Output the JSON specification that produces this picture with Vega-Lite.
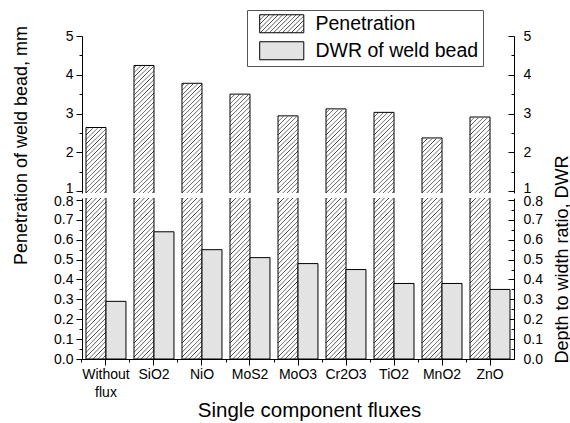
{
  "$schema": "https://vega.github.io/schema/vega-lite/v6.json",
  "autosize": "pad",
  "bounds": "flush",
  "padding": {"left": 11, "top": 9, "right": 0, "bottom": 0},
  "background": "white",
  "spacing": 5,
  "data": {"values": [
    {"flux": "Without flux", "pen": 2.64, "dwr": 0.29},
    {"flux": "SiO2", "pen": 4.24, "dwr": 0.64},
    {"flux": "NiO", "pen": 3.78, "dwr": 0.55},
    {"flux": "MoS2", "pen": 3.5, "dwr": 0.51},
    {"flux": "MoO3", "pen": 2.94, "dwr": 0.48},
    {"flux": "Cr2O3", "pen": 3.12, "dwr": 0.45},
    {"flux": "TiO2", "pen": 3.03, "dwr": 0.38},
    {"flux": "MnO2", "pen": 2.37, "dwr": 0.38},
    {"flux": "ZnO", "pen": 2.91, "dwr": 0.35}
  ]},
  "config": {
    "font": "Liberation Sans",
    "view": {"stroke": null},
    "axis": {"labelFont": "Liberation Sans", "titleFont": "Liberation Sans", "labelFontSize": 14, "labelColor": "#000", "domainColor": "#000", "tickColor": "#000", "titleFontSize": 18, "titleFontWeight": "normal", "titleColor": "#000", "grid": false},
    "legend": {"labelFont": "Liberation Sans", "labelFontSize": 19.5, "labelColor": "#000", "labelLimit": 400, "symbolStrokeColor": "black", "symbolStrokeWidth": 1}
  },
  "vconcat": [
    {
      "width": 432,
      "height": 157,
      "layer": [
        {
          "mark": {"type": "bar", "strokeWidth": 0, "clip": true, "fill": {"gradient": "linear", "x1": 0, "y1": 0, "x2": 0.137, "y2": 1.107, "stops": [
            {"offset": 0, "color": "#fff"}, {"offset": 0.004, "color": "#404040"}, {"offset": 0.009, "color": "#fff"},
            {"offset": 0.025, "color": "#fff"}, {"offset": 0.029, "color": "#404040"}, {"offset": 0.034, "color": "#fff"},
            {"offset": 0.05, "color": "#fff"}, {"offset": 0.054, "color": "#404040"}, {"offset": 0.059, "color": "#fff"},
            {"offset": 0.075, "color": "#fff"}, {"offset": 0.079, "color": "#404040"}, {"offset": 0.084, "color": "#fff"},
            {"offset": 0.1, "color": "#fff"}, {"offset": 0.104, "color": "#404040"}, {"offset": 0.109, "color": "#fff"},
            {"offset": 0.125, "color": "#fff"}, {"offset": 0.129, "color": "#404040"}, {"offset": 0.134, "color": "#fff"},
            {"offset": 0.15, "color": "#fff"}, {"offset": 0.154, "color": "#404040"}, {"offset": 0.159, "color": "#fff"},
            {"offset": 0.175, "color": "#fff"}, {"offset": 0.179, "color": "#404040"}, {"offset": 0.184, "color": "#fff"},
            {"offset": 0.2, "color": "#fff"}, {"offset": 0.204, "color": "#404040"}, {"offset": 0.209, "color": "#fff"},
            {"offset": 0.225, "color": "#fff"}, {"offset": 0.229, "color": "#404040"}, {"offset": 0.234, "color": "#fff"},
            {"offset": 0.25, "color": "#fff"}, {"offset": 0.254, "color": "#404040"}, {"offset": 0.259, "color": "#fff"},
            {"offset": 0.275, "color": "#fff"}, {"offset": 0.279, "color": "#404040"}, {"offset": 0.284, "color": "#fff"},
            {"offset": 0.3, "color": "#fff"}, {"offset": 0.304, "color": "#404040"}, {"offset": 0.309, "color": "#fff"},
            {"offset": 0.325, "color": "#fff"}, {"offset": 0.329, "color": "#404040"}, {"offset": 0.334, "color": "#fff"},
            {"offset": 0.35, "color": "#fff"}, {"offset": 0.354, "color": "#404040"}, {"offset": 0.359, "color": "#fff"},
            {"offset": 0.375, "color": "#fff"}, {"offset": 0.379, "color": "#404040"}, {"offset": 0.384, "color": "#fff"},
            {"offset": 0.4, "color": "#fff"}, {"offset": 0.404, "color": "#404040"}, {"offset": 0.409, "color": "#fff"},
            {"offset": 0.425, "color": "#fff"}, {"offset": 0.429, "color": "#404040"}, {"offset": 0.434, "color": "#fff"},
            {"offset": 0.45, "color": "#fff"}, {"offset": 0.454, "color": "#404040"}, {"offset": 0.459, "color": "#fff"},
            {"offset": 0.475, "color": "#fff"}, {"offset": 0.479, "color": "#404040"}, {"offset": 0.484, "color": "#fff"},
            {"offset": 0.5, "color": "#fff"}, {"offset": 0.504, "color": "#404040"}, {"offset": 0.509, "color": "#fff"},
            {"offset": 0.525, "color": "#fff"}, {"offset": 0.529, "color": "#404040"}, {"offset": 0.534, "color": "#fff"},
            {"offset": 0.55, "color": "#fff"}, {"offset": 0.554, "color": "#404040"}, {"offset": 0.559, "color": "#fff"},
            {"offset": 0.575, "color": "#fff"}, {"offset": 0.579, "color": "#404040"}, {"offset": 0.584, "color": "#fff"},
            {"offset": 0.6, "color": "#fff"}, {"offset": 0.604, "color": "#404040"}, {"offset": 0.609, "color": "#fff"},
            {"offset": 0.625, "color": "#fff"}, {"offset": 0.629, "color": "#404040"}, {"offset": 0.634, "color": "#fff"},
            {"offset": 0.65, "color": "#fff"}, {"offset": 0.654, "color": "#404040"}, {"offset": 0.659, "color": "#fff"},
            {"offset": 0.675, "color": "#fff"}, {"offset": 0.679, "color": "#404040"}, {"offset": 0.684, "color": "#fff"},
            {"offset": 0.7, "color": "#fff"}, {"offset": 0.704, "color": "#404040"}, {"offset": 0.709, "color": "#fff"},
            {"offset": 0.725, "color": "#fff"}, {"offset": 0.729, "color": "#404040"}, {"offset": 0.734, "color": "#fff"},
            {"offset": 0.75, "color": "#fff"}, {"offset": 0.754, "color": "#404040"}, {"offset": 0.759, "color": "#fff"},
            {"offset": 0.775, "color": "#fff"}, {"offset": 0.779, "color": "#404040"}, {"offset": 0.784, "color": "#fff"},
            {"offset": 0.8, "color": "#fff"}, {"offset": 0.804, "color": "#404040"}, {"offset": 0.809, "color": "#fff"},
            {"offset": 0.825, "color": "#fff"}, {"offset": 0.829, "color": "#404040"}, {"offset": 0.834, "color": "#fff"},
            {"offset": 0.85, "color": "#fff"}, {"offset": 0.854, "color": "#404040"}, {"offset": 0.859, "color": "#fff"},
            {"offset": 0.875, "color": "#fff"}, {"offset": 0.879, "color": "#404040"}, {"offset": 0.884, "color": "#fff"},
            {"offset": 0.9, "color": "#fff"}, {"offset": 0.904, "color": "#404040"}, {"offset": 0.909, "color": "#fff"},
            {"offset": 0.925, "color": "#fff"}, {"offset": 0.929, "color": "#404040"}, {"offset": 0.934, "color": "#fff"},
            {"offset": 0.95, "color": "#fff"}, {"offset": 0.954, "color": "#404040"}, {"offset": 0.959, "color": "#fff"},
            {"offset": 0.975, "color": "#fff"}, {"offset": 0.979, "color": "#404040"}, {"offset": 0.984, "color": "#fff"},
            {"offset": 1, "color": "#fff"}
          ]}},
          "encoding": {
            "x": {"field": "flux", "type": "nominal", "sort": null, "scale": {"paddingInner": 0.1667, "paddingOuter": 0.0833}, "axis": null},
            "xOffset": {"datum": "Penetration", "type": "nominal", "scale": {"domain": ["Penetration", "DWR of weld bead"]}},
            "y": {"datum": 5, "type": "quantitative", "scale": {"domain": [0.95, 5], "nice": false, "zero": false},
                  "axis": {"orient": "left", "title": null, "values": [1, 1.5, 2, 2.5, 3, 3.5, 4, 4.5, 5],
                           "labelExpr": "datum.value % 1 == 0 ? format(datum.value, 'd') : ''",
                           "labelOffset": {"condition": {"test": "datum.value == 1", "value": -3}, "value": 0},
                           "tickSize": {"condition": {"test": "datum.value % 1 != 0", "value": 3}, "value": 6}, "labelPadding": 3}},
            "y2": {"datum": 0.9}
          }
        },
        {
          "mark": {"type": "bar", "fill": "white", "stroke": "white", "strokeWidth": 1.5, "clip": true},
          "encoding": {
            "x": {"field": "flux", "type": "nominal", "sort": null, "scale": {"paddingInner": 0.1667, "paddingOuter": 0.0833}, "axis": null},
            "xOffset": {"datum": "Penetration", "type": "nominal", "scale": {"domain": ["Penetration", "DWR of weld bead"]}},
            "y": {"field": "pen", "type": "quantitative", "scale": {"domain": [0.95, 5], "nice": false, "zero": false}, "axis": null},
            "y2": {"datum": 5}
          }
        },
        {
          "mark": {"type": "bar", "fill": "transparent", "stroke": "black", "strokeWidth": 1, "clip": true},
          "encoding": {
            "x": {"field": "flux", "type": "nominal", "sort": null, "scale": {"paddingInner": 0.1667, "paddingOuter": 0.0833}, "axis": null},
            "xOffset": {"datum": "Penetration", "type": "nominal", "scale": {"domain": ["Penetration", "DWR of weld bead"]}},
            "y": {"field": "pen", "type": "quantitative", "scale": {"domain": [0.95, 5], "nice": false, "zero": false},
                  "axis": {"orient": "right", "title": null, "values": [1, 1.5, 2, 2.5, 3, 3.5, 4, 4.5, 5],
                           "labelExpr": "datum.value % 1 == 0 ? format(datum.value, 'd') : ''",
                           "labelOffset": {"condition": {"test": "datum.value == 1", "value": -3}, "value": 0},
                           "tickSize": {"condition": {"test": "datum.value % 1 != 0", "value": -3}, "value": -6}, "labelPadding": 15}},
            "y2": {"datum": 0.9}
          }
        }
      ],
      "resolve": {"axis": {"y": "independent"}}
    },
    {
      "width": 432,
      "height": 161,
      "layer": [
        {
          "mark": {"type": "bar", "stroke": "black", "strokeWidth": 1, "clip": true, "fill": {"gradient": "linear", "x1": 0, "y1": 0, "x2": 0.137, "y2": 1.107, "stops": [
            {"offset": 0, "color": "#fff"}, {"offset": 0.004, "color": "#404040"}, {"offset": 0.009, "color": "#fff"},
            {"offset": 0.025, "color": "#fff"}, {"offset": 0.029, "color": "#404040"}, {"offset": 0.034, "color": "#fff"},
            {"offset": 0.05, "color": "#fff"}, {"offset": 0.054, "color": "#404040"}, {"offset": 0.059, "color": "#fff"},
            {"offset": 0.075, "color": "#fff"}, {"offset": 0.079, "color": "#404040"}, {"offset": 0.084, "color": "#fff"},
            {"offset": 0.1, "color": "#fff"}, {"offset": 0.104, "color": "#404040"}, {"offset": 0.109, "color": "#fff"},
            {"offset": 0.125, "color": "#fff"}, {"offset": 0.129, "color": "#404040"}, {"offset": 0.134, "color": "#fff"},
            {"offset": 0.15, "color": "#fff"}, {"offset": 0.154, "color": "#404040"}, {"offset": 0.159, "color": "#fff"},
            {"offset": 0.175, "color": "#fff"}, {"offset": 0.179, "color": "#404040"}, {"offset": 0.184, "color": "#fff"},
            {"offset": 0.2, "color": "#fff"}, {"offset": 0.204, "color": "#404040"}, {"offset": 0.209, "color": "#fff"},
            {"offset": 0.225, "color": "#fff"}, {"offset": 0.229, "color": "#404040"}, {"offset": 0.234, "color": "#fff"},
            {"offset": 0.25, "color": "#fff"}, {"offset": 0.254, "color": "#404040"}, {"offset": 0.259, "color": "#fff"},
            {"offset": 0.275, "color": "#fff"}, {"offset": 0.279, "color": "#404040"}, {"offset": 0.284, "color": "#fff"},
            {"offset": 0.3, "color": "#fff"}, {"offset": 0.304, "color": "#404040"}, {"offset": 0.309, "color": "#fff"},
            {"offset": 0.325, "color": "#fff"}, {"offset": 0.329, "color": "#404040"}, {"offset": 0.334, "color": "#fff"},
            {"offset": 0.35, "color": "#fff"}, {"offset": 0.354, "color": "#404040"}, {"offset": 0.359, "color": "#fff"},
            {"offset": 0.375, "color": "#fff"}, {"offset": 0.379, "color": "#404040"}, {"offset": 0.384, "color": "#fff"},
            {"offset": 0.4, "color": "#fff"}, {"offset": 0.404, "color": "#404040"}, {"offset": 0.409, "color": "#fff"},
            {"offset": 0.425, "color": "#fff"}, {"offset": 0.429, "color": "#404040"}, {"offset": 0.434, "color": "#fff"},
            {"offset": 0.45, "color": "#fff"}, {"offset": 0.454, "color": "#404040"}, {"offset": 0.459, "color": "#fff"},
            {"offset": 0.475, "color": "#fff"}, {"offset": 0.479, "color": "#404040"}, {"offset": 0.484, "color": "#fff"},
            {"offset": 0.5, "color": "#fff"}, {"offset": 0.504, "color": "#404040"}, {"offset": 0.509, "color": "#fff"},
            {"offset": 0.525, "color": "#fff"}, {"offset": 0.529, "color": "#404040"}, {"offset": 0.534, "color": "#fff"},
            {"offset": 0.55, "color": "#fff"}, {"offset": 0.554, "color": "#404040"}, {"offset": 0.559, "color": "#fff"},
            {"offset": 0.575, "color": "#fff"}, {"offset": 0.579, "color": "#404040"}, {"offset": 0.584, "color": "#fff"},
            {"offset": 0.6, "color": "#fff"}, {"offset": 0.604, "color": "#404040"}, {"offset": 0.609, "color": "#fff"},
            {"offset": 0.625, "color": "#fff"}, {"offset": 0.629, "color": "#404040"}, {"offset": 0.634, "color": "#fff"},
            {"offset": 0.65, "color": "#fff"}, {"offset": 0.654, "color": "#404040"}, {"offset": 0.659, "color": "#fff"},
            {"offset": 0.675, "color": "#fff"}, {"offset": 0.679, "color": "#404040"}, {"offset": 0.684, "color": "#fff"},
            {"offset": 0.7, "color": "#fff"}, {"offset": 0.704, "color": "#404040"}, {"offset": 0.709, "color": "#fff"},
            {"offset": 0.725, "color": "#fff"}, {"offset": 0.729, "color": "#404040"}, {"offset": 0.734, "color": "#fff"},
            {"offset": 0.75, "color": "#fff"}, {"offset": 0.754, "color": "#404040"}, {"offset": 0.759, "color": "#fff"},
            {"offset": 0.775, "color": "#fff"}, {"offset": 0.779, "color": "#404040"}, {"offset": 0.784, "color": "#fff"},
            {"offset": 0.8, "color": "#fff"}, {"offset": 0.804, "color": "#404040"}, {"offset": 0.809, "color": "#fff"},
            {"offset": 0.825, "color": "#fff"}, {"offset": 0.829, "color": "#404040"}, {"offset": 0.834, "color": "#fff"},
            {"offset": 0.85, "color": "#fff"}, {"offset": 0.854, "color": "#404040"}, {"offset": 0.859, "color": "#fff"},
            {"offset": 0.875, "color": "#fff"}, {"offset": 0.879, "color": "#404040"}, {"offset": 0.884, "color": "#fff"},
            {"offset": 0.9, "color": "#fff"}, {"offset": 0.904, "color": "#404040"}, {"offset": 0.909, "color": "#fff"},
            {"offset": 0.925, "color": "#fff"}, {"offset": 0.929, "color": "#404040"}, {"offset": 0.934, "color": "#fff"},
            {"offset": 0.95, "color": "#fff"}, {"offset": 0.954, "color": "#404040"}, {"offset": 0.959, "color": "#fff"},
            {"offset": 0.975, "color": "#fff"}, {"offset": 0.979, "color": "#404040"}, {"offset": 0.984, "color": "#fff"},
            {"offset": 1, "color": "#fff"}
          ]}},
          "encoding": {
            "x": {"field": "flux", "type": "nominal", "sort": null, "scale": {"paddingInner": 0.1667, "paddingOuter": 0.0833},
                  "axis": {"orient": "bottom", "title": "Single component fluxes", "titleFontSize": 20.5, "titlePadding": 1, "titleX": 227, "labelAngle": 0, "tickSize": 6, "labelPadding": 2, "labelLineHeight": 18,
                           "labelExpr": "datum.label == 'Without flux' ? ['Without', 'flux'] : datum.label"}},
            "xOffset": {"datum": "Penetration", "type": "nominal", "scale": {"domain": ["Penetration", "DWR of weld bead"]}},
            "y": {"datum": 0.83, "type": "quantitative", "scale": {"domain": [0, 0.81], "nice": false},
                  "axis": {"orient": "left", "title": "Penetration of weld bead, mm", "titleX": -61, "titleY": -53, "titleBaseline": "middle", "titleAngle": 270,
                           "values": [0, 0.05, 0.1, 0.15, 0.2, 0.25, 0.3, 0.35, 0.4, 0.45, 0.5, 0.55, 0.6, 0.65, 0.7, 0.75, 0.8],
                           "labelExpr": "round(datum.value * 100) % 10 == 0 ? format(datum.value, '.1f') : ''",
                           "labelOffset": {"condition": {"test": "datum.value == 0.8", "value": 2}, "value": 0},
                           "tickSize": {"condition": {"test": "round(datum.value * 100) % 10 != 0", "value": 3}, "value": 6}, "labelPadding": 3}},
            "y2": {"datum": 0}
          }
        },
        {
          "mark": {"type": "bar", "stroke": "black", "strokeWidth": 1},
          "encoding": {
            "x": {"field": "flux", "type": "nominal", "sort": null, "scale": {"paddingInner": 0.1667, "paddingOuter": 0.0833},
                  "axis": {"orient": "bottom", "title": null, "labels": false, "domain": false, "tickSize": 3, "bandPosition": -0.1}},
            "xOffset": {"datum": "DWR of weld bead", "type": "nominal", "scale": {"domain": ["Penetration", "DWR of weld bead"]}},
            "y": {"field": "dwr", "type": "quantitative", "scale": {"domain": [0, 0.81], "nice": false},
                  "axis": {"orient": "right", "title": "Depth to width ratio, DWR", "titleX": 48, "titleY": 61, "titleBaseline": "middle", "titleAngle": 270,
                           "values": [0, 0.05, 0.1, 0.15, 0.2, 0.25, 0.3, 0.35, 0.4, 0.45, 0.5, 0.55, 0.6, 0.65, 0.7, 0.75, 0.8],
                           "labelExpr": "round(datum.value * 100) % 10 == 0 ? format(datum.value, '.1f') : ''",
                           "labelOffset": {"condition": {"test": "datum.value == 0.8", "value": 2}, "value": 0},
                           "tickSize": {"condition": {"test": "round(datum.value * 100) % 10 != 0", "value": -3}, "value": -6}, "labelPadding": 15}},
            "fill": {"datum": "DWR of weld bead", "type": "nominal",
                     "scale": {"domain": ["Penetration", "DWR of weld bead"],
                               "range": [{"expr": "{gradient: 'linear', x1: 0, y1: 0, x2: 1.207, y2: 0.494, stops: [{offset: 0, color: '#fff'}, {offset: 0.012, color: '#404040'}, {offset: 0.028, color: '#fff'}, {offset: 0.0714, color: '#fff'}, {offset: 0.0834, color: '#404040'}, {offset: 0.0994, color: '#fff'}, {offset: 0.1429, color: '#fff'}, {offset: 0.1549, color: '#404040'}, {offset: 0.1709, color: '#fff'}, {offset: 0.2143, color: '#fff'}, {offset: 0.2263, color: '#404040'}, {offset: 0.2423, color: '#fff'}, {offset: 0.2857, color: '#fff'}, {offset: 0.2977, color: '#404040'}, {offset: 0.3137, color: '#fff'}, {offset: 0.3571, color: '#fff'}, {offset: 0.3691, color: '#404040'}, {offset: 0.3851, color: '#fff'}, {offset: 0.4286, color: '#fff'}, {offset: 0.4406, color: '#404040'}, {offset: 0.4566, color: '#fff'}, {offset: 0.5, color: '#fff'}, {offset: 0.512, color: '#404040'}, {offset: 0.528, color: '#fff'}, {offset: 0.5714, color: '#fff'}, {offset: 0.5834, color: '#404040'}, {offset: 0.5994, color: '#fff'}, {offset: 0.6429, color: '#fff'}, {offset: 0.6549, color: '#404040'}, {offset: 0.6709, color: '#fff'}, {offset: 0.7143, color: '#fff'}, {offset: 0.7263, color: '#404040'}, {offset: 0.7423, color: '#fff'}, {offset: 0.7857, color: '#fff'}, {offset: 0.7977, color: '#404040'}, {offset: 0.8137, color: '#fff'}, {offset: 0.8571, color: '#fff'}, {offset: 0.8691, color: '#404040'}, {offset: 0.8851, color: '#fff'}, {offset: 0.9286, color: '#fff'}, {offset: 0.9406, color: '#404040'}, {offset: 0.9566, color: '#fff'}, {offset: 1, color: '#fff'}]}"}, "#e3e3e3"]},
                     "legend": {"title": null, "orient": "none", "legendX": 165, "legendY": -26, "direction": "vertical",
                                "symbolType": "M-2.45,-1H2.45V1H-2.45Z", "symbolSize": 324, "symbolStrokeWidth": 1, "symbolStrokeColor": "black",
                                "symbolOffset": 21, "labelOffset": 24, "rowPadding": 4, "padding": 4, "labelLimit": 400,
                                "strokeColor": "#555", "fillColor": "white", "labelFontSize": 19.5}}
          }
        }
      ],
      "resolve": {"axis": {"y": "independent", "x": "independent"}}
    }
  ]
}
